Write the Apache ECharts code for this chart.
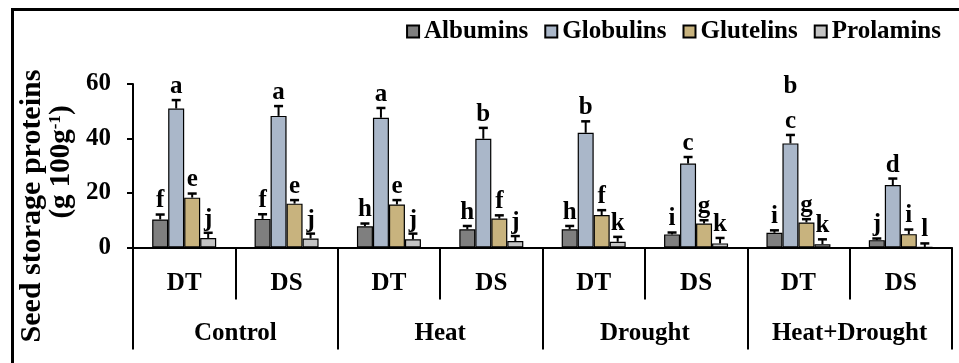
<!DOCTYPE html>
<html>
<head>
<meta charset="utf-8">
<script src="https://cdn.jsdelivr.net/npm/echarts@6/dist/echarts.min.js"></script>
<style>
  html, body { margin: 0; padding: 0; background: #fff; }
  #chart { width: 959px; height: 363px; }
</style>
</head>
<body>
<div id="chart"></div>
<script>
// Seed storage protein fractions (g 100g-1) per genotype type and stress treatment
const categories = ['DT', 'DS', 'DT', 'DS', 'DT', 'DS', 'DT', 'DS'];
const groups = ['Control', 'Heat', 'Drought', 'Heat+Drought'];
const yTicks = [0, 20, 40, 60];

const albumins     = [10.3, 10.5, 7.8, 6.7, 6.7, 4.8, 5.4, 2.7];
const albuminsErr  = [1.8, 1.7, 1.0, 1.2, 1.2, 0.7, 0.9, 0.6];
const globulins    = [51.0, 48.3, 47.6, 39.9, 42.1, 30.8, 38.2, 22.9];
const globulinsErr = [3.1, 3.6, 3.6, 4.0, 4.2, 2.4, 3.1, 2.4];
const glutelins    = [18.3, 16.1, 15.8, 10.6, 11.9, 8.8, 9.2, 4.9];
const glutelinsErr = [1.5, 1.3, 1.6, 1.2, 1.8, 1.2, 1.2, 1.7];
const prolamins    = [3.5, 3.3, 3.0, 2.4, 2.1, 1.5, 1.2, 0.2];
const prolaminsErr = [1.9, 1.8, 2.1, 1.8, 1.8, 2.0, 1.8, 1.3];

// Significance letters (a second letter on its own line where two are given)
const albuminsLetters  = ['f', 'f', 'h', 'h', 'h', 'i', 'i', 'j'];
const globulinsLetters = ['a', 'a', 'a', 'b', 'b', 'c', 'b\nc', 'd'];
const glutelinsLetters = ['e', 'e', 'e', 'f', 'f', 'g', 'g', 'i'];
const prolaminsLetters = ['j', 'j', 'j', 'j', 'k', 'k', 'k', 'l'];

const FONT = "'Liberation Serif', 'Times New Roman', serif";
const BAR_W = 16;

const proteins = [
  { name: 'Albumins',  values: albumins,  errs: albuminsErr,  letters: albuminsLetters,  color: '#7f7f7f' },
  { name: 'Globulins', values: globulins, errs: globulinsErr, letters: globulinsLetters, color: '#aab7c9' },
  { name: 'Glutelins', values: glutelins, errs: glutelinsErr, letters: glutelinsLetters, color: '#c8b37e' },
  { name: 'Prolamins', values: prolamins, errs: prolaminsErr, letters: prolaminsLetters, color: '#c4c4c4' }
];

const series = [];
proteins.forEach(function (p) {
  series.push({
    name: p.name,
    type: 'bar',
    xAxisIndex: 0,
    data: p.values,
    barWidth: BAR_W,
    barGap: '0%',
    itemStyle: { color: p.color, borderColor: '#000', borderWidth: 1.2 }
  });
});

// Error bars (upper whisker with cap) and letters above them
proteins.forEach(function (p, k) {
  series.push({
    type: 'custom',
    xAxisIndex: 0,
    clip: false,
    silent: true,
    z: 5,
    data: p.values.map(function (v, i) { return [i, v, p.errs[i]]; }),
    encode: { x: 0, y: 1 },
    renderItem: function (params, api) {
      const i = api.value(0);
      const v = api.value(1);
      const e = api.value(2);
      const base = api.coord([i, v]);
      const top = api.coord([i, v + e]);
      const x = base[0] + (k - 1.5) * BAR_W;
      const children = [
        { type: 'line', shape: { x1: x, y1: base[1], x2: x, y2: top[1] },
          style: { stroke: '#000', lineWidth: 2 } },
        { type: 'line', shape: { x1: x - 4.5, y1: top[1], x2: x + 4.5, y2: top[1] },
          style: { stroke: '#000', lineWidth: 2.5 } }
      ];
      const lines = p.letters[params.dataIndex].split('\n');
      lines.forEach(function (t, j) {
        const up = (lines.length - 1 - j) * 35;
        children.push({
          type: 'text',
          x: x,
          y: top[1] - 1 - up,
          style: {
            text: t,
            fill: '#000',
            font: 'bold 25px ' + FONT,
            textAlign: 'center',
            textVerticalAlign: 'bottom'
          }
        });
      });
      return { type: 'group', children: children };
    }
  });
});

const chart = echarts.init(document.getElementById('chart'), null, { renderer: 'canvas' });

chart.setOption({
  animation: false,
  backgroundColor: '#fff',
  grid: { left: 133, right: 7, top: 84, bottom: 115.5, containLabel: false },
  legend: {
    data: proteins.map(function (p) { return p.name; }),
    right: 13,
    top: 14,
    icon: 'rect',
    itemWidth: 12,
    itemHeight: 12,
    itemGap: 16,
    textStyle: { fontFamily: FONT, fontWeight: 'bold', fontSize: 25, color: '#000' }
  },
  xAxis: [
    {
      type: 'category',
      data: categories,
      position: 'bottom',
      axisLine: { show: true, lineStyle: { color: '#000', width: 2 } },
      axisTick: { show: true, interval: 0, length: 52, lineStyle: { color: '#000', width: 2 } },
      axisLabel: {
        interval: 0, margin: 36, verticalAlign: 'middle',
        fontFamily: FONT, fontWeight: 'bold', fontSize: 25, color: '#000'
      },
      splitLine: { show: false }
    },
    {
      type: 'category',
      data: groups,
      position: 'bottom',
      axisLine: { show: false },
      axisTick: { show: true, interval: 0, length: 102, lineStyle: { color: '#000', width: 2 } },
      axisLabel: {
        interval: 0, margin: 86.5, verticalAlign: 'middle',
        fontFamily: FONT, fontWeight: 'bold', fontSize: 25, color: '#000'
      },
      splitLine: { show: false }
    }
  ],
  yAxis: {
    type: 'value',
    min: yTicks[0],
    max: yTicks[yTicks.length - 1],
    interval: yTicks[1] - yTicks[0],
    axisLine: { show: true, lineStyle: { color: '#000', width: 2 } },
    axisTick: { show: true, length: 6, lineStyle: { color: '#000', width: 2 } },
    axisLabel: { margin: 22, fontFamily: FONT, fontWeight: 'bold', fontSize: 25, color: '#000' },
    splitLine: { show: false }
  },
  graphic: [
    {
      type: 'rect',
      shape: { x: 12.5, y: 9.5, width: 1000, height: 400 },
      style: { fill: 'none', stroke: '#000', lineWidth: 3 },
      silent: true
    },
    {
      type: 'text',
      x: 32, y: 206,
      rotation: Math.PI / 2,
      style: {
        text: 'Seed storage proteins',
        font: 'bold 30px ' + FONT,
        fill: '#000',
        textAlign: 'center',
        textVerticalAlign: 'middle'
      }
    },
    {
      type: 'text',
      x: 62, y: 162,
      rotation: Math.PI / 2,
      style: {
        text: '{a|(g 100g}{s|-1}{a|)}',
        textAlign: 'center',
        textVerticalAlign: 'middle',
        rich: {
          a: { font: 'bold 29px ' + FONT, fill: '#000', color: '#000' },
          s: { font: 'bold 17px ' + FONT, fill: '#000', color: '#000', verticalAlign: 'top' }
        }
      }
    }
  ],
  series: series
});
</script>
</body>
</html>
